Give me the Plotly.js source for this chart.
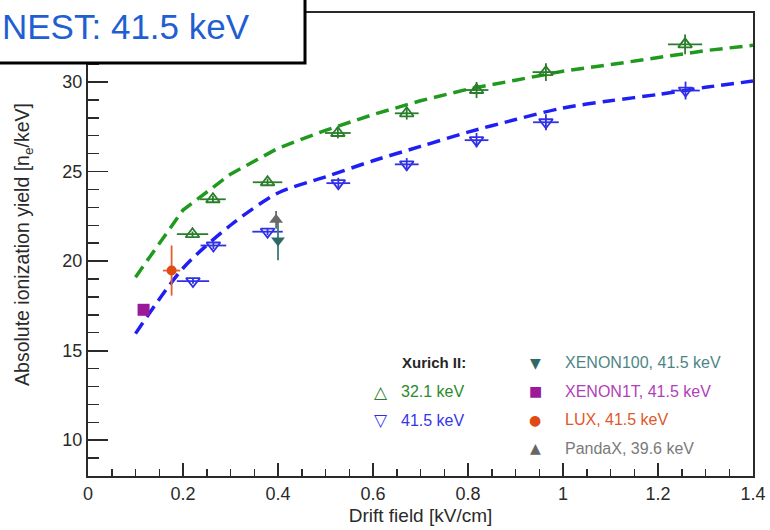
<!DOCTYPE html>
<html>
<head>
<meta charset="utf-8">
<script src="https://cdn.plot.ly/plotly-3.0.1.min.js"></script>
<style>
  html, body { margin: 0; padding: 0; background: #ffffff; }
  #chart { width: 770px; height: 530px; }
</style>
</head>
<body>
<div id="chart"></div>
<script>
// Xurich II measurements (drift field in kV/cm, absolute ionization yield in n_e/keV)
const xurich32Field = [0.220, 0.263, 0.378, 0.526, 0.671, 0.818, 0.964, 1.257];
const xurich32Yield = [21.5, 23.45, 24.4, 27.15, 28.25, 29.55, 30.55, 32.1];
const xurich32FieldErr = [0.033, 0.027, 0.031, 0.027, 0.025, 0.025, 0.028, 0.036];
const xurich32YieldErr = [0.15, 0.2, 0.2, 0.3, 0.35, 0.45, 0.5, 0.55];

const xurich41Field = [0.221, 0.264, 0.378, 0.527, 0.671, 0.818, 0.964, 1.258];
const xurich41Yield = [18.88, 20.87, 21.64, 24.35, 25.4, 26.75, 27.75, 29.52];
const xurich41FieldErr = [0.034, 0.027, 0.032, 0.025, 0.025, 0.025, 0.027, 0.03];
const xurich41YieldErr = [0.15, 0.2, 0.2, 0.3, 0.35, 0.4, 0.45, 0.5];

// Other experiments
const xenon100Field = [0.400];
const xenon100Yield = [21.15];
const xenon100YieldErr = [1.1];

const xenon1tField = [0.117];
const xenon1tYield = [17.28];

const luxField = [0.176];
const luxYield = [19.47];
const luxFieldErr = [0.018];
const luxYieldErr = [1.4];

const pandaxField = [0.396];
const pandaxYield = [22.3];
const pandaxYieldErr = [0.5];

// NEST predictions
const nestField = [0.1, 0.2, 0.3, 0.4, 0.5, 0.6, 0.7, 0.8, 0.9, 1.0, 1.1, 1.2, 1.3, 1.4];
const nest32Yield = [19.1, 22.85, 24.85, 26.3, 27.3, 28.18, 28.95, 29.6, 30.1, 30.6, 30.97, 31.35, 31.75, 32.05];
const nest41Yield = [15.95, 19.6, 22.0, 23.8, 24.7, 25.6, 26.4, 27.2, 27.9, 28.55, 28.95, 29.3, 29.7, 30.05];

// Tick labels
const xTickVals = [0, 0.2, 0.4, 0.6, 0.8, 1, 1.2, 1.4];
const xTickText = ['0', '0.2', '0.4', '0.6', '0.8', '1', '1.2', '1.4'];
const yTickVals = [10, 15, 20, 25, 30];
const yTickText = ['10', '15', '20', '25', '30'];

// Legend entries
const legendLeft = [
  { sym: '\u25B3', text: '32.1 keV', color: '#2a8a2a', symColor: '#2a7d2a' },
  { sym: '\u25BD', text: '41.5 keV', color: '#3535ee', symColor: '#3030e6' }
];
const legendRight = [
  { sym: '\u25BC', text: 'XENON100, 41.5 keV', color: '#4d8585', symColor: '#2f6868' },
  { sym: '\u25A0', text: 'XENON1T, 41.5 keV', color: '#b040b8', symColor: '#9a1a9a' },
  { sym: '\u25CF', text: 'LUX, 41.5 keV', color: '#e0582a', symColor: '#e04a14' },
  { sym: '\u25B2', text: 'PandaX, 39.6 keV', color: '#7a7a7a', symColor: '#666666' }
];

const GREEN_LINE = '#1f9a1f';
const BLUE_LINE = '#1f1ff5';
const GREEN_MK = '#2a7d2a';
const BLUE_MK = '#3030e6';

// plot area in pixels: x 88..753, y 13..476
const L = 88, R = 753, T = 13, B = 476;
const px = p => (p - L) / (R - L);
const py = p => (B - p) / (B - T);

const traces = [
  {
    x: nestField, y: nest32Yield, mode: 'lines', type: 'scatter',
    line: { color: GREEN_LINE, width: 3.5, dash: '13px,7px' }, hoverinfo: 'skip'
  },
  {
    x: nestField, y: nest41Yield, mode: 'lines', type: 'scatter',
    line: { color: BLUE_LINE, width: 3.5, dash: '13px,7px', shape: 'spline', smoothing: 0.8 }, hoverinfo: 'skip'
  },
  {
    x: xurich32Field, y: xurich32Yield, mode: 'markers', type: 'scatter',
    marker: { symbol: 'triangle-up-open', size: 12, color: GREEN_MK, line: { width: 1.8, color: GREEN_MK } },
    error_x: { type: 'data', array: xurich32FieldErr, color: GREEN_MK, thickness: 1.8, width: 0 },
    error_y: { type: 'data', array: xurich32YieldErr, color: GREEN_MK, thickness: 1.8, width: 0 }
  },
  {
    x: xurich41Field, y: xurich41Yield, mode: 'markers', type: 'scatter',
    marker: { symbol: 'triangle-down-open', size: 12, color: BLUE_MK, line: { width: 1.8, color: BLUE_MK } },
    error_x: { type: 'data', array: xurich41FieldErr, color: BLUE_MK, thickness: 1.8, width: 0 },
    error_y: { type: 'data', array: xurich41YieldErr, color: BLUE_MK, thickness: 1.8, width: 0 }
  },
  {
    x: xenon100Field, y: xenon100Yield, mode: 'markers', type: 'scatter',
    marker: { symbol: 'triangle-down', size: 12, color: '#2f6868' },
    error_y: { type: 'data', array: xenon100YieldErr, color: '#3f7878', thickness: 1.8, width: 0 }
  },
  {
    x: pandaxField, y: pandaxYield, mode: 'markers', type: 'scatter',
    marker: { symbol: 'triangle-up', size: 12, color: '#6a6a6a' },
    error_y: { type: 'data', array: pandaxYieldErr, color: '#6a6a6a', thickness: 1.8, width: 0 }
  },
  {
    x: luxField, y: luxYield, mode: 'markers', type: 'scatter',
    marker: { symbol: 'circle', size: 10, color: '#e04a14' },
    error_x: { type: 'data', array: luxFieldErr, color: '#e06030', thickness: 1.8, width: 0 },
    error_y: { type: 'data', array: luxYieldErr, color: '#e06030', thickness: 1.8, width: 0 }
  },
  {
    x: xenon1tField, y: xenon1tYield, mode: 'markers', type: 'scatter',
    marker: { symbol: 'square', size: 12, color: '#9a1a9a' }
  }
];

const font = 'Liberation Sans, Arial, Helvetica, sans-serif';
const annotations = [];

// legend header
annotations.push({
  xref: 'paper', yref: 'paper', x: px(400), y: py(362), xanchor: 'left', yanchor: 'middle',
  text: '<b>Xurich II:</b>', showarrow: false, font: { family: font, size: 15, color: '#262626' }
});
legendLeft.forEach((e, i) => {
  const yy = 391.5 + i * 28.5;
  annotations.push({
    xref: 'paper', yref: 'paper', x: px(381), y: py(yy), xanchor: 'center', yanchor: 'middle',
    text: '<b>' + e.sym + '</b>', showarrow: false, font: { family: 'DejaVu Sans', size: 17, color: e.symColor }
  });
  annotations.push({
    xref: 'paper', yref: 'paper', x: px(399), y: py(yy), xanchor: 'left', yanchor: 'middle',
    text: e.text, showarrow: false, font: { family: font, size: 16, color: e.color }
  });
});
legendRight.forEach((e, i) => {
  const yy = 362.5 + i * 28.6;
  annotations.push({
    xref: 'paper', yref: 'paper', x: px(535), y: py(yy), xanchor: 'center', yanchor: 'middle',
    text: e.sym, showarrow: false, font: { family: 'DejaVu Sans', size: 14, color: e.symColor }
  });
  annotations.push({
    xref: 'paper', yref: 'paper', x: px(563), y: py(yy), xanchor: 'left', yanchor: 'middle',
    text: e.text, showarrow: false, font: { family: font, size: 16, color: e.color }
  });
});

// NEST label box text
annotations.push({
  xref: 'paper', yref: 'paper', x: px(251), y: py(26), xanchor: 'right', yanchor: 'middle',
  text: 'NEST: 41.5 keV', showarrow: false, borderpad: 0,
  font: { family: font, size: 35, color: '#1f5fd2' }
});

const layout = {
  width: 770, height: 530,
  margin: { l: L, r: 770 - R, t: T, b: 530 - B, pad: 0 },
  paper_bgcolor: '#ffffff', plot_bgcolor: '#ffffff',
  showlegend: false,
  font: { family: font, size: 18, color: '#2a2a2a' },
  xaxis: {
    range: [0, 1.4], showgrid: false, zeroline: false,
    showline: true, linecolor: '#2a2a2a', linewidth: 2, mirror: true,
    ticks: 'inside', ticklen: 13, tickwidth: 1.8, tickcolor: '#2a2a2a',
    tickvals: xTickVals, ticktext: xTickText,
    tickfont: { family: font, size: 18, color: '#2a2a2a' },
    minor: { dtick: 0.05, tick0: 0, ticks: 'inside', ticklen: 7, tickwidth: 1.5, tickcolor: '#2a2a2a' },
    title: { text: 'Drift field [kV/cm]', font: { family: font, size: 19, color: '#2a2a2a' }, standoff: 6 }
  },
  yaxis: {
    range: [8.0, 33.85], showgrid: false, zeroline: false,
    showline: true, linecolor: '#2a2a2a', linewidth: 2, mirror: true,
    ticks: 'inside', ticklen: 20, tickwidth: 1.8, tickcolor: '#2a2a2a',
    tickvals: yTickVals, ticktext: yTickText,
    tickfont: { family: font, size: 18, color: '#2a2a2a' },
    minor: { dtick: 1, tick0: 0, ticks: 'inside', ticklen: 11, tickwidth: 1.5, tickcolor: '#2a2a2a' },
    title: { text: 'Absolute ionization yield [n<sub>e</sub>/keV]', font: { family: font, size: 19.5, color: '#2a2a2a' }, standoff: 28 }
  },
  shapes: [
    {
      type: 'rect', xref: 'paper', yref: 'paper', layer: 'above',
      x0: px(-20), x1: px(305), y0: py(63), y1: py(-20),
      fillcolor: '#ffffff', line: { color: '#000000', width: 3 }
    }
  ],
  annotations: annotations
};

Plotly.newPlot('chart', traces, layout, { staticPlot: true, displayModeBar: false });
</script>
</body>
</html>
